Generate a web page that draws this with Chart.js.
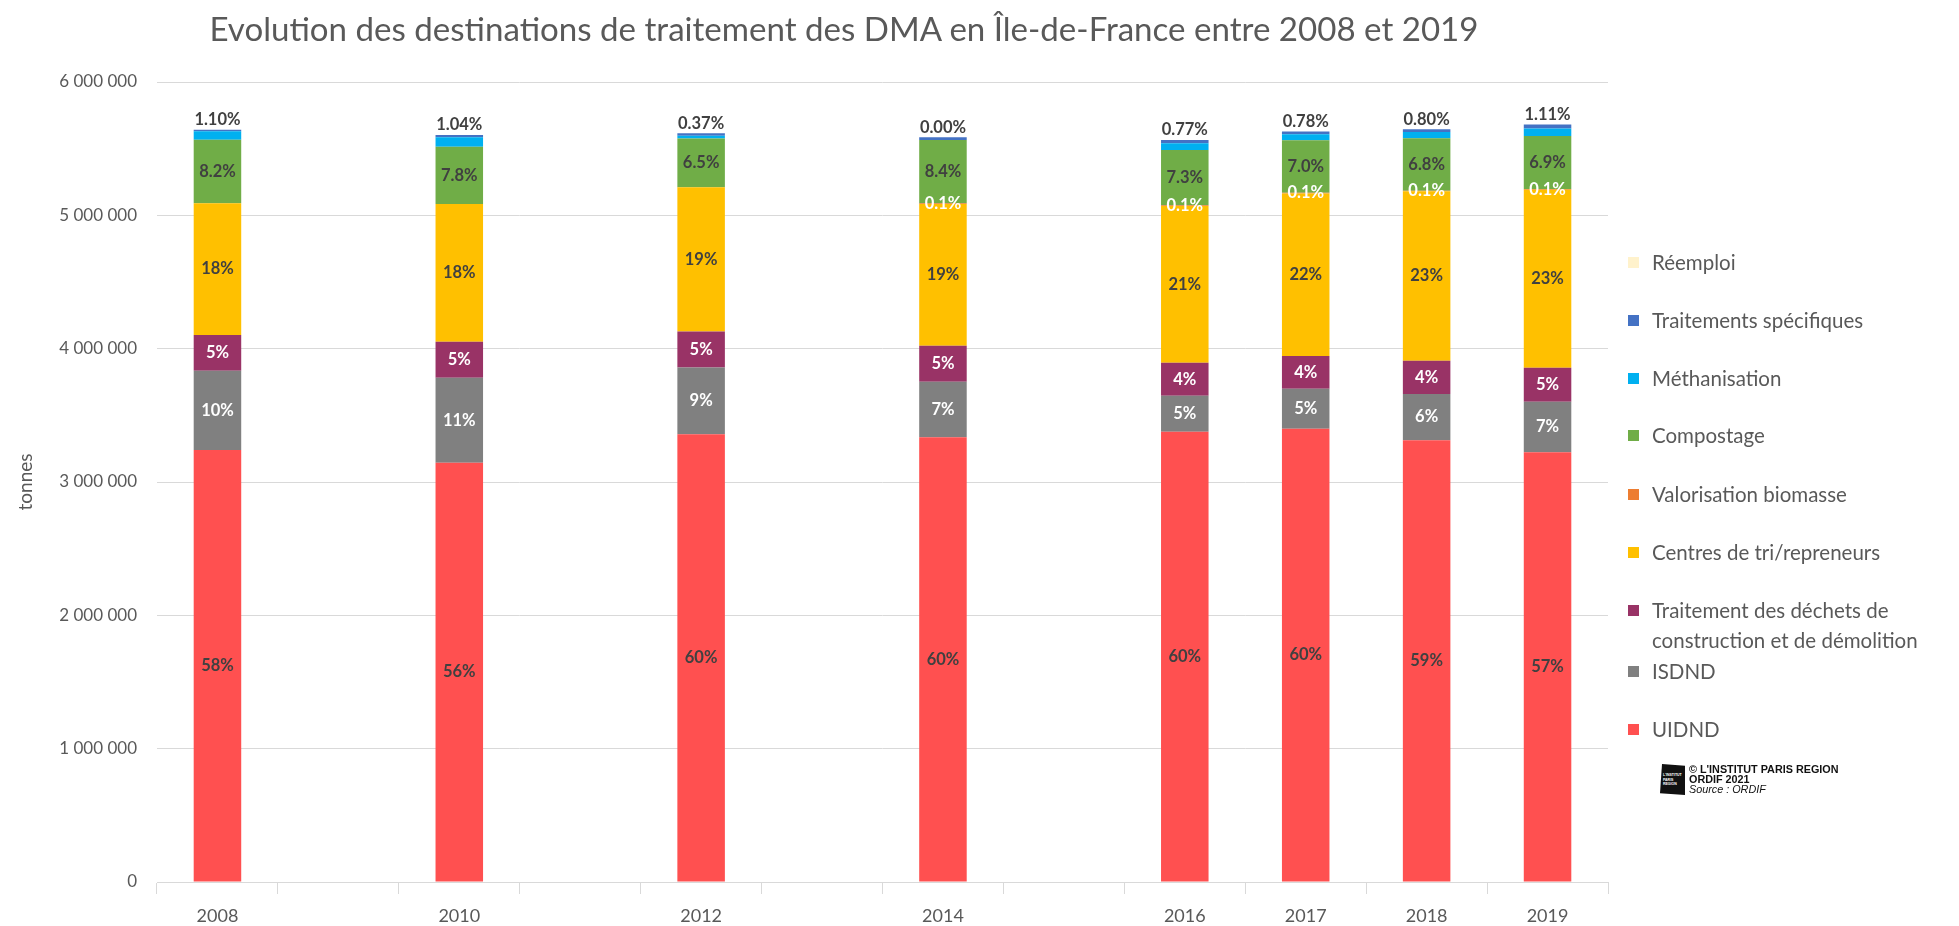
<!DOCTYPE html>
<html lang="fr">
<head>
<meta charset="utf-8">
<title>Evolution des destinations de traitement des DMA</title>
<script src="https://cdn.jsdelivr.net/npm/chart.js@4.4.1/dist/chart.umd.min.js"></script>
<style>
    body { margin: 0; background: #fff; font-family: Lato, sans-serif; }
    #wrap { position: relative; width: 1959px; height: 926px; overflow: hidden; }
    #chart { position: absolute; left: 0; top: 0; }
    #title {
        position: absolute; left: 844px; top: 9px; transform: translateX(-50%);
        white-space: nowrap; font-size: 33.1px; line-height: 38px; color: #595959;
    }
    #legend { position: absolute; left: 1628px; top: 0; margin: 0; padding: 0; list-style: none; }
    #legend li { position: absolute; left: 0; white-space: nowrap; font-size: 20.5px; line-height: 30px; color: #595959; }
    #legend li i { position: absolute; left: 0; top: 10px; width: 11px; height: 11px; }
    #legend li span { display: block; padding-left: 24px; }
    #credit { position: absolute; left: 1660px; top: 764px; font-family: "Liberation Sans", Arial, sans-serif; }
    #credit .logo {
        position: absolute; left: 0; top: 0; width: 25px; height: 31px; background: #111;
        clip-path: polygon(8% 0, 100% 6%, 100% 100%, 0 94%);
        color: #fff; font-size: 3.5px; line-height: 4.5px; font-weight: bold; padding: 9px 0 0 3px; box-sizing: border-box;
    }
    #credit .txt { position: absolute; left: 29px; top: 0; font-size: 10.8px; line-height: 10px; color: #111; white-space: nowrap; }
</style>
</head>
<body>
<div id="wrap">
    <canvas id="chart" width="1959" height="926"></canvas>
    <div id="title">Evolution des destinations de traitement des DMA en Île-de-France entre 2008 et 2019</div>
    <ul id="legend"></ul>
    <div id="credit">
        <div class="logo">L'INSTITUT<br>PARIS<br>REGION</div>
        <div class="txt"><b>© L'INSTITUT PARIS REGION</b><br><b>ORDIF 2021</b><br><i>Source : ORDIF</i></div>
    </div>
</div>

<script>
// years on the axis (odd years before 2016 have no data, no label)
const years = ["2008", "", "2010", "", "2012", "", "2014", "", "2016", "2017", "2018", "2019"];

// tonnages per destination
const uidnd = [3240000, null, 3145000, null, 3358000, null, 3335000, null, 3377000, 3400000, 3313000, 3223000];
const isdnd = [595000, null, 637000, null, 500000, null, 417000, null, 270000, 300000, 347000, 379000];
const dechetsBtp = [268000, null, 270000, null, 270000, null, 270000, null, 248000, 245000, 250000, 255000];
const centresTri = [988000, null, 1033000, null, 1083000, null, 1063000, null, 1175000, 1219000, 1270000, 1334000];
const biomasse = [0, null, 0, null, 0, null, 6000, null, 6000, 6000, 5000, 6000];
const compostage = [475000, null, 430000, null, 365000, null, 474000, null, 414000, 394000, 393000, 398000];
const methanisation = [65000, null, 70000, null, 20000, null, 0, null, 50000, 45000, 47000, 57000];
const traitSpecifiques = [10000, null, 17000, null, 20000, null, 20000, null, 25000, 20000, 20000, 30000];
const reemploi = [0, null, 0, null, 0, null, 0, null, 0, 0, 0, 0];

// shares written on the bars (%)
const pctUidnd = [58, null, 56, null, 60, null, 60, null, 60, 60, 59, 57];
const pctIsdnd = [10, null, 11, null, 9, null, 7, null, 5, 5, 6, 7];
const pctBtp = [5, null, 5, null, 5, null, 5, null, 4, 4, 4, 5];
const pctTri = [18, null, 18, null, 19, null, 19, null, 21, 22, 23, 23];
const pctBiomasse = [null, null, null, null, null, null, 0.1, null, 0.1, 0.1, 0.1, 0.1];
const pctCompost = [8.2, null, 7.8, null, 6.5, null, 8.4, null, 7.3, 7.0, 6.8, 6.9];
const pctMetha = [1.10, null, 1.04, null, 0.37, null, 0.00, null, 0.77, 0.78, 0.80, 1.11];

const yMax = 6000000;
const yStep = 1000000;

// bottom to top of each stack
const series = [
    { label: "UIDND", data: uidnd, color: "#FF5050", pct: pctUidnd, dec: 0, txt: "#404040" },
    { label: "ISDND", data: isdnd, color: "#808080", pct: pctIsdnd, dec: 0, txt: "#ffffff" },
    { label: "Traitement des déchets de\nconstruction et de démolition", data: dechetsBtp, color: "#993366", pct: pctBtp, dec: 0, txt: "#ffffff" },
    { label: "Centres de tri/repreneurs", data: centresTri, color: "#FFC000", pct: pctTri, dec: 0, txt: "#404040" },
    { label: "Valorisation biomasse", data: biomasse, color: "#ED7D31", pct: pctBiomasse, dec: 1, txt: "#ffffff" },
    { label: "Compostage", data: compostage, color: "#70AD47", pct: pctCompost, dec: 1, txt: "#404040" },
    { label: "Méthanisation", data: methanisation, color: "#00B0F0", pct: null },
    { label: "Traitements spécifiques", data: traitSpecifiques, color: "#4472C4", pct: null },
    { label: "Réemploi", data: reemploi, color: "#FFF2CC", pct: null }
];

// legend, top item = last series
const legendTops = [247, 305, 363, 420, 479, 537, 595, 656, 714];
let legend = document.getElementById("legend");
series.slice().reverse().forEach((s, i) => {
    let li = document.createElement("li");
    li.style.top = legendTops[i] + "px";
    li.innerHTML = `<i style="background:${s.color}"></i><span>${s.label.replace("\n", "<br>")}</span>`;
    legend.appendChild(li);
});

function spaced(v) {
    return String(v).replace(/\B(?=(\d{3})+(?!\d))/g, " ");
}

// percentages inside the bars, méthanisation share above the stack
const barLabels = {
    id: "barLabels",
    afterDatasetsDraw(chart) {
        let ctx = chart.ctx;
        ctx.save();
        ctx.font = "bold 16.5px Lato";
        ctx.textAlign = "center";
        ctx.textBaseline = "middle";
        series.forEach((s, i) => {
            if (!s.pct) return;
            chart.getDatasetMeta(i).data.forEach((bar, j) => {
                let v = s.pct[j];
                if (v == null) return;
                ctx.fillStyle = s.txt;
                ctx.fillText(v.toFixed(s.dec) + "%", bar.x, (bar.y + bar.base) / 2);
            });
        });
        let topMeta = chart.getDatasetMeta(series.length - 1);
        ctx.fillStyle = "#404040";
        topMeta.data.forEach((bar, j) => {
            if (pctMetha[j] == null) return;
            ctx.fillText(pctMetha[j].toFixed(2) + "%", bar.x, bar.y - 10);
        });
        ctx.restore();
    }
};

new Chart(document.getElementById("chart"), {
    type: "bar",
    data: {
        labels: years,
        datasets: series.map(s => ({
            label: s.label,
            data: s.data,
            backgroundColor: s.color,
            borderWidth: 0,
            categoryPercentage: 1,
            barPercentage: 0.393
        }))
    },
    options: {
        responsive: false,
        animation: false,
        layout: { padding: { top: 82, right: 351, bottom: 0, left: 0 } },
        plugins: {
            legend: { display: false },
            tooltip: { enabled: false }
        },
        scales: {
            x: {
                stacked: true,
                grid: { drawOnChartArea: false, drawTicks: true, tickLength: 12, color: "#d9d9d9" },
                border: { color: "#d9d9d9" },
                ticks: { color: "#595959", font: { family: "Lato", size: 18 }, padding: 11, maxRotation: 0, autoSkip: false },
                afterFit: s => { s.height = 44; }
            },
            y: {
                stacked: true,
                min: 0,
                max: yMax,
                grid: { color: "#d9d9d9", drawTicks: false },
                border: { display: false },
                ticks: { stepSize: yStep, color: "#595959", font: { family: "Lato", size: 17 }, padding: 20, callback: v => spaced(v) },
                title: { display: true, text: "tonnes", color: "#595959", font: { family: "Lato", size: 19 }, padding: { top: 14, bottom: 0 } },
                afterFit: s => { s.width = 157; }
            }
        }
    },
    plugins: [barLabels]
});
</script>
</body>
</html>
